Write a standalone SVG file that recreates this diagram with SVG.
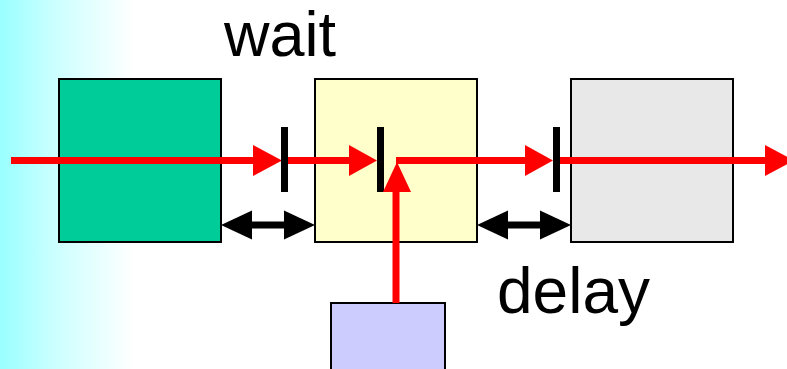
<svg xmlns="http://www.w3.org/2000/svg" width="787" height="369" viewBox="0 0 787 369">
<defs>
<linearGradient id="bg" x1="0" y1="0" x2="1" y2="0">
<stop offset="0" stop-color="#99ffff"/>
<stop offset="0.07" stop-color="#ccffff"/>
<stop offset="0.17" stop-color="#ffffff"/>
<stop offset="1" stop-color="#ffffff"/>
</linearGradient>
</defs>
<style>
.box{stroke:#000;stroke-width:2}
.red{stroke:#ff0000;stroke-width:7;fill:none}
.redhead{fill:#ff0000}
.bar{fill:#000}
.dbl{stroke:#000;stroke-width:7}
.head{fill:#000}
.lbl{font-family:"Liberation Sans",Arial,sans-serif;font-size:64px;fill:#000}
</style>
<rect x="0" y="0" width="787" height="369" fill="url(#bg)"/>
<g id="node-green"><rect class="box" x="59" y="79" width="162" height="163" fill="#00cc99"/></g>
<g id="node-yellow"><rect class="box" x="315" y="79" width="162" height="163" fill="#ffffcc"/></g>
<g id="node-gray"><rect class="box" x="571" y="79" width="162" height="163" fill="#e8e8e8"/></g>
<g id="node-blue"><rect class="box" x="331" y="303" width="114" height="80" fill="#ccccff"/></g>
<g id="connectors">
<line class="red" x1="11" y1="160.5" x2="256" y2="160.5"/>
<polygon class="redhead" points="253,145 282,160.5 253,176"/>
<rect class="bar" x="281" y="127" width="7" height="65"/>
<line class="red" x1="288" y1="160.5" x2="352" y2="160.5"/>
<polygon class="redhead" points="349,145 377,160.5 349,176"/>
<rect class="bar" x="377" y="127" width="7" height="65"/>
<line class="red" x1="396" y1="160.5" x2="528" y2="160.5"/>
<polygon class="redhead" points="525,145 553,160.5 525,176"/>
<rect class="bar" x="553" y="127" width="7" height="65"/>
<line class="red" x1="560" y1="160.5" x2="768" y2="160.5"/>
<polygon class="redhead" points="765,145 794,160.5 765,176"/>
<line class="red" x1="396" y1="303" x2="396" y2="188"/>
<polygon class="redhead" points="383,192 397,162 411,192"/>
<line class="dbl" x1="248" y1="225" x2="288" y2="225"/>
<polygon class="head" points="221,225 252,210.5 252,239.5"/>
<polygon class="head" points="315,225 284,210.5 284,239.5"/>
<line class="dbl" x1="504" y1="225" x2="544" y2="225"/>
<polygon class="head" points="477,225 508,210.5 508,239.5"/>
<polygon class="head" points="571,225 540,210.5 540,239.5"/>
</g>
<text class="lbl" x="224" y="56" style="font-size:63px">wait</text>
<text class="lbl" x="497" y="313">delay</text>
</svg>
